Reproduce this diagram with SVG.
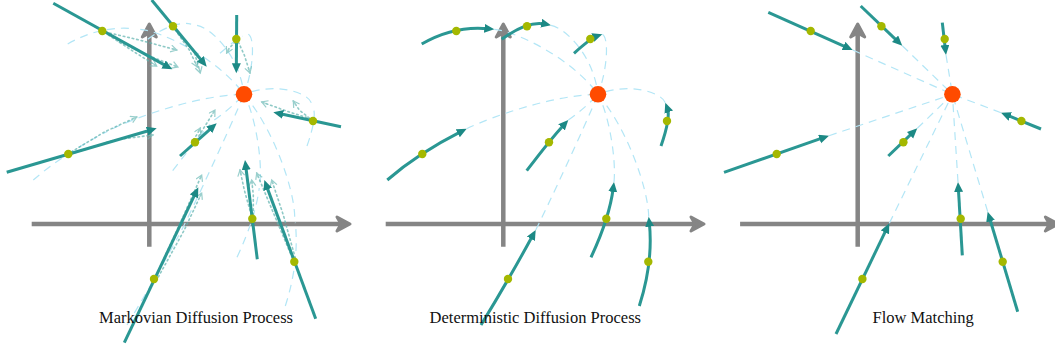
<svg xmlns="http://www.w3.org/2000/svg" xmlns:xlink="http://www.w3.org/1999/xlink" width="1055" height="354" viewBox="0 0 1055 354">
<style>
.ax{stroke:#858585;stroke-width:4.5;fill:none}
.axh{fill:#858585;stroke:#858585;stroke-width:3;stroke-linejoin:round}
.lb{fill:none;stroke:#b3e6f6;stroke-width:1.2;stroke-dasharray:8 6}
.tl{fill:none;stroke:#2a9793;stroke-width:3;marker-end:url(#ah)}
.dt{fill:none;stroke:#5fb3af;stroke-width:1.6;stroke-dasharray:1.6 3;stroke-linecap:round;opacity:.7;marker-end:url(#oh)}
.src{fill:#a4b800}
.tgt{fill:#ff4b00}
.lbl{font-family:"Liberation Serif","Times New Roman",serif;font-size:16.5px;fill:#111;text-anchor:middle}
</style>
<defs>
<marker id="ah" markerUnits="userSpaceOnUse" markerWidth="12" markerHeight="10" viewBox="0 0 12 10" refX="4" refY="4.5" orient="auto"><path d="M0,0 L10,4.5 L0,9 Z" fill="#1c8985"/></marker>
<marker id="oh" markerUnits="userSpaceOnUse" markerWidth="10" markerHeight="10" viewBox="0 0 10 10" refX="7" refY="4" orient="auto"><path d="M1,0.5 L7,4 L1,7.5 M7,4 L2.5,4" fill="none" stroke="#6fbcb8" stroke-width="1.2"/></marker>
<g id="axes"><path class="ax" d="M0,246.7 V30 M-117.6,224 H195"/><path class="axh" d="M0,24 L-7,37 L0,33 L7,37 Z"/><path class="axh" d="M200.7,224 L187.7,217 L191.7,224 L187.7,231 Z"/></g>
<g id="ode">
<path d="M-81.6,44 Q-49.3,25.35 -14.97,28.72"/><path d="M-9,29.3 C15,31.7 70,60 94.7,94.3"/>
<path d="M-1.6,39.3 Q24.35,20.3 41.83,24.05"/><path d="M47.7,25.3 C62,28 90,55 94.7,94.3"/>
<path d="M70.7,53.3 Q88,38 93.3,36.2"/><path d="M99,34.3 C106,38 104,70 94.7,94.3"/>
<path d="M157.7,146 Q167.55,117.65 164.09,108.32"/><path d="M162,102.7 C158,92 125,82 94.7,94.3"/>
<path d="M23.4,170.7 Q47.2,139.25 60.93,124.41"/><path d="M65,120 Q82,108 94.7,94.3"/>
<path d="M-116,180 Q-85.7,153.65 -41.95,131.42"/><path d="M-36.6,128.7 C-10,116 50,95 94.7,94.3"/>
<path d="M-22.3,325 Q4.95,280.5 29.54,235.27"/><path d="M32.4,230 C45,205 80,130 94.7,94.3"/>
<path d="M87.7,257.3 Q106.2,217.75 109.95,187.95"/><path d="M110.7,182 C113,160 106,115 94.7,94.3"/>
<path d="M136,306 Q150.1,262.05 146.02,222.67"/><path d="M145.4,216.7 C145,190 125,130 94.7,94.3"/>
</g>
<g id="pts">
<circle class="src" cx="-47" cy="31" r="4.2"/><circle class="src" cx="23.7" cy="26.3" r="4.2"/><circle class="src" cx="87" cy="39" r="4.2"/>
<circle class="src" cx="163.7" cy="121" r="4.2"/><circle class="src" cx="45.7" cy="142.3" r="4.2"/><circle class="src" cx="-81" cy="154" r="4.2"/>
<circle class="src" cx="4.7" cy="279" r="4.2"/><circle class="src" cx="103" cy="218.7" r="4.2"/><circle class="src" cx="145" cy="261.7" r="4.2"/>
<circle class="tgt" cx="94.7" cy="94.3" r="8.3"/>
</g>
</defs>

<g id="markovian" transform="translate(149.3,0)">
<use xlink:href="#axes"/>
<use xlink:href="#ode" class="lb"/>
<g id="markovian-stochastic">
<path class="dt" d="M-44,32 L-10,40 L27.4,50"/>
<path class="dt" d="M-41,35 L-15,52 L7.4,66"/>
<path class="dt" d="M-30,42 L5,58 L28.7,67"/>
<path class="dt" d="M26,30 L40,50 L48,67"/>
<path class="dt" d="M28,32 L45,52 L51,73"/>
<path class="dt" d="M86,42 L80,48 L77.4,53"/>
<path class="dt" d="M89,42 L95,55 L100.7,73"/>
<path class="dt" d="M162,119 L140,112 L112.4,102"/>
<path class="dt" d="M160,118 L150,110 L144,101"/>
<path class="dt" d="M47,140 L57,124 L65.7,110"/>
<path class="dt" d="M44,140 L48,134 L51,128"/>
<path class="dt" d="M-78,152 L-45,132 L-12.6,117"/>
<path class="dt" d="M-78,154 L-35,140 L3.7,135"/>
<path class="dt" d="M7,275 L30,225 L52.4,175"/>
<path class="dt" d="M9,277 L35,230 L52.4,193"/>
<path class="dt" d="M102,215 L95,190 L90.7,170"/>
<path class="dt" d="M104,215 L104,195 L102.4,180"/>
<path class="dt" d="M143,258 L125,215 L107.4,173"/>
<path class="dt" d="M146,258 L134,215 L122.4,180"/>
</g>
<g id="markovian-arrows">
<path class="tl" d="M-96,3.3 L17.76,66.39"/>
<path class="tl" d="M2.4,0 L53.58,62.07"/>
<path class="tl" d="M87.4,15 L87.04,67.3"/>
<path class="tl" d="M191.7,126.7 L129.87,113.55"/>
<path class="tl" d="M30.7,156 L62.92,127.29"/>
<path class="tl" d="M-142.6,172.3 L1.64,129.99"/>
<path class="tl" d="M-25,342.7 L46.42,192.72"/>
<path class="tl" d="M108,259.3 L96.44,165.95"/>
<path class="tl" d="M166.4,318.7 L117.09,185.63"/>
</g>
<use xlink:href="#pts"/>
</g>

<g id="deterministic" transform="translate(503.3,0)">
<use xlink:href="#axes"/>
<g id="deterministic-paths">
<path class="tl" d="M-81.6,44 Q-49.3,25.35 -14.97,28.72"/><path class="lb" d="M-9,29.3 C15,31.7 70,60 94.7,94.3"/>
<path class="tl" d="M-1.6,39.3 Q24.35,20.3 41.83,24.05"/><path class="lb" d="M47.7,25.3 C62,28 90,55 94.7,94.3"/>
<path class="tl" d="M70.7,53.3 Q88,38 93.3,36.2"/><path class="lb" d="M99,34.3 C106,38 104,70 94.7,94.3"/>
<path class="tl" d="M157.7,146 Q167.55,117.65 164.09,108.32"/><path class="lb" d="M162,102.7 C158,92 125,82 94.7,94.3"/>
<path class="tl" d="M23.4,170.7 Q47.2,139.25 60.93,124.41"/><path class="lb" d="M65,120 Q82,108 94.7,94.3"/>
<path class="tl" d="M-116,180 Q-85.7,153.65 -41.95,131.42"/><path class="lb" d="M-36.6,128.7 C-10,116 50,95 94.7,94.3"/>
<path class="tl" d="M-22.3,325 Q4.95,280.5 29.54,235.27"/><path class="lb" d="M32.4,230 C45,205 80,130 94.7,94.3"/>
<path class="tl" d="M87.7,257.3 Q106.2,217.75 109.95,187.95"/><path class="lb" d="M110.7,182 C113,160 106,115 94.7,94.3"/>
<path class="tl" d="M136,306 Q150.1,262.05 146.02,222.67"/><path class="lb" d="M145.4,216.7 C145,190 125,130 94.7,94.3"/>
</g>
<use xlink:href="#pts"/>
</g>

<g id="flow-matching" transform="translate(857.7,0)">
<use xlink:href="#axes"/>
<g id="flow-lines">
<path class="lb" d="M-5,50 L94.7,94.3 M44.6,45.7 L94.7,94.3 M88.3,55 L94.7,94.3 M143.3,112.7 L94.7,94.3 M59.6,128.3 L94.7,94.3 M-28.7,135.7 L94.7,94.3 M31.6,223.3 L94.7,94.3 M100.3,182 L94.7,94.3 M130,211.7 L94.7,94.3"/>
</g>
<g id="flow-arrows">
<path class="tl" d="M-89.4,12.3 L-10.48,47.55"/>
<path class="tl" d="M3,6 L40.26,41.56"/>
<path class="tl" d="M84.6,22.7 L87.62,49.04"/>
<path class="tl" d="M183.3,129 L148.86,114.96"/>
<path class="tl" d="M30.6,156 L55.26,132.45"/>
<path class="tl" d="M-133.7,172.3 L-34.36,137.67"/>
<path class="tl" d="M-21.7,334 L29,228.7"/>
<path class="tl" d="M104.6,255.3 L100.65,187.99"/>
<path class="tl" d="M160,311.7 L131.72,217.45"/>
</g>
<use xlink:href="#pts"/>
</g>

<g id="labels">
<text class="lbl" x="196" y="323">Markovian Diffusion Process</text>
<text class="lbl" x="535.3" y="323">Deterministic Diffusion Process</text>
<text class="lbl" x="923.2" y="323">Flow Matching</text>
</g>
</svg>
